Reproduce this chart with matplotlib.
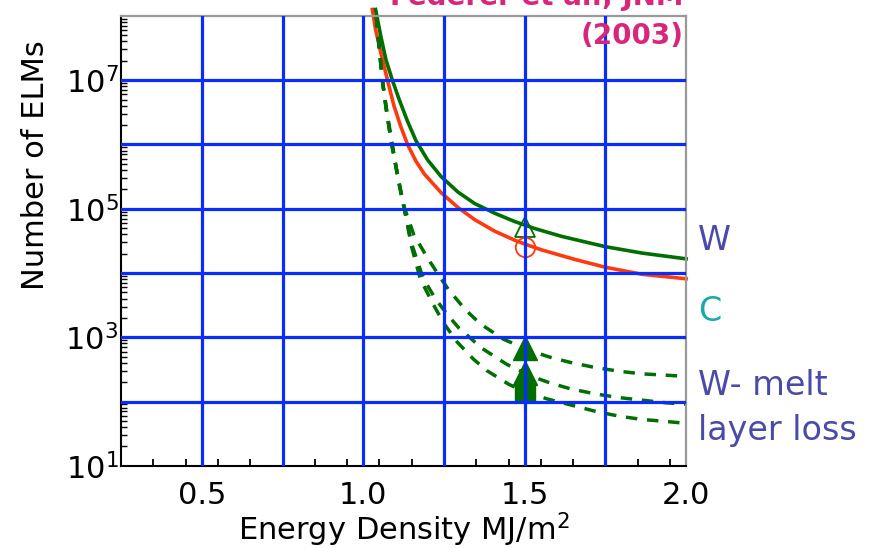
import numpy as np
import matplotlib
matplotlib.use("Agg")
import matplotlib.pyplot as plt
from matplotlib.ticker import FixedLocator, NullFormatter, LogLocator

plt.rcParams['font.family'] = ['DejaVu Sans']
plt.rcParams['mathtext.fontset'] = 'dejavusans'

# ---- data (energy density in MJ/m2, log10 of number of ELMs) ----
c_x = [1.028, 1.038, 1.054, 1.075, 1.095, 1.116, 1.137, 1.163, 1.189, 1.241, 1.293, 1.345,
       1.407, 1.469, 1.50, 1.552, 1.614, 1.656, 1.749, 1.863, 2.0]
c_logn = [8.10, 7.79, 7.43, 7.0, 6.60, 6.28, 6.0, 5.74, 5.54, 5.25, 5.02, 4.83,
          4.65, 4.51, 4.45, 4.36, 4.27, 4.21, 4.09, 3.98, 3.91]

w_x = [1.038, 1.054, 1.070, 1.090, 1.111, 1.137, 1.163, 1.199, 1.241, 1.293, 1.345, 1.407,
       1.469, 1.532, 1.614, 1.656, 1.749, 1.863, 2.0]
w_logn = [8.10, 7.69, 7.32, 7.0, 6.70, 6.36, 6.06, 5.76, 5.50, 5.26, 5.08, 4.93,
          4.80, 4.69, 4.57, 4.52, 4.41, 4.31, 4.22]

melt_top_x = [1.040, 1.059, 1.073, 1.090, 1.108, 1.125, 1.156, 1.197, 1.233, 1.264, 1.316,
              1.362, 1.434, 1.517, 1.578, 1.640, 1.717, 1.794, 1.865, 1.938, 2.0]
melt_top_logn = [8.0, 7.0, 6.5, 6.0, 5.45, 5.05, 4.6, 4.25, 3.97, 3.74, 3.43,
                 3.21, 2.97, 2.79, 2.69, 2.61, 2.53, 2.47, 2.43, 2.41, 2.39]

melt_mid_x = [1.040, 1.059, 1.073, 1.088, 1.107, 1.127, 1.150, 1.180, 1.197, 1.223, 1.264,
              1.295, 1.367, 1.444, 1.517, 1.578, 1.640, 1.717, 1.794, 1.866, 1.938, 2.0]
melt_mid_logn = [8.0, 7.0, 6.5, 6.0, 5.5, 5.0, 4.45, 4.0, 3.82, 3.6, 3.33,
                 3.15, 2.83, 2.58, 2.40, 2.29, 2.20, 2.12, 2.06, 2.02, 1.98, 1.96]

melt_low_x = [1.040, 1.059, 1.072, 1.088, 1.107, 1.127, 1.150, 1.177, 1.218, 1.249, 1.290,
              1.341, 1.383, 1.450, 1.500, 1.570, 1.640, 1.717, 1.794, 1.866, 1.938, 2.0]
melt_low_logn = [8.0, 7.0, 6.5, 6.0, 5.5, 5.0, 4.4, 3.9, 3.5, 3.22, 2.93,
                 2.66, 2.48, 2.27, 2.15, 2.04, 1.95, 1.85, 1.77, 1.72, 1.69, 1.66]

# markers at 1.5 MJ/m2
marker_x = 1.5
open_tri_logn = 4.72
open_circ_logn = 4.41
filled_tri_logn = [2.83, 2.44]
filled_sq_logn = 2.17

x_ticks = [0.5, 1.0, 1.5, 2.0]
x_ticklabels = ['0.5', '1.0', '1.5', '2.0']
y_label_exps = [1, 3, 5, 7]

green = '#006e00'
red = '#ff3a10'
blue = '#0a2dff'


def n(v):
    return np.power(10.0, np.asarray(v, dtype=float))


fig = plt.figure(figsize=(8.78, 5.48), dpi=100)
ax = fig.add_axes([0.138, 0.150, 0.6435, 0.821])
ax.set_yscale('log')
ax.set_xlim(0.25, 2.0)
ax.set_ylim(10, 1e8)

lw = 2.6
ax.plot(c_x, n(c_logn), color=red, lw=lw, zorder=2, clip_on=False)
ax.plot(w_x, n(w_logn), color=green, lw=lw, zorder=2, clip_on=False)
for xs, ls_ in [(melt_top_x, melt_top_logn), (melt_mid_x, melt_mid_logn), (melt_low_x, melt_low_logn)]:
    ax.plot(xs, n(ls_), color=green, lw=2.5, ls=(0, (3.3, 2.8)), zorder=2)

ax.plot([marker_x], n([open_tri_logn]), marker='^', ms=15, mfc='none', mec=green, mew=1.3, zorder=2)
ax.plot([marker_x], n([open_circ_logn]), marker='o', ms=14, mfc='none', mec=red, mew=1.3, zorder=2)
ax.plot([marker_x] * len(filled_tri_logn), n(filled_tri_logn), ls='none', marker='^', ms=17,
        color=green, zorder=2)
ax.plot([marker_x], n([filled_sq_logn]), marker='s', ms=14, color=green, zorder=2)

# grid (drawn over the curves)
for gx in [0.5, 0.75, 1.0, 1.25, 1.5, 1.75]:
    ax.axvline(gx, color=blue, lw=2.3, zorder=3)
for ge in range(2, 8):
    ax.axhline(10.0 ** ge, color=blue, lw=2.3, zorder=3)

# spines
for s in ['top', 'right']:
    ax.spines[s].set_color('#999999')
    ax.spines[s].set_linestyle((0, (1, 1)))
    ax.spines[s].set_linewidth(1.6)
for s in ['left', 'bottom']:
    ax.spines[s].set_color('black')
    ax.spines[s].set_linewidth(1.5)

# ticks
ax.xaxis.set_major_locator(FixedLocator(x_ticks))
ax.set_xticklabels(x_ticklabels)
ax.xaxis.set_minor_locator(FixedLocator(np.arange(0.35, 1.99, 0.1)))
ax.tick_params(axis='x', which='major', length=0, labelsize=22, pad=11)
ax.tick_params(axis='x', which='minor', direction='in', length=5, width=1.3)

ax.yaxis.set_major_locator(FixedLocator([10.0 ** e for e in range(1, 9)]))
ax.set_yticklabels(['$10^{%d}$' % e if e in y_label_exps else '' for e in range(1, 9)])
ax.yaxis.set_minor_locator(LogLocator(base=10, subs=np.arange(2, 10), numticks=20))
ax.yaxis.set_minor_formatter(NullFormatter())
ax.tick_params(axis='y', which='major', direction='in', length=7, width=1.3, labelsize=22, pad=2)
ax.tick_params(axis='y', which='minor', direction='in', length=4, width=1.0)
ax.tick_params(top=False, right=False, which='both')

ax.set_xlabel('Energy Density MJ/m$^2$', fontsize=22, labelpad=0)
fig.text(0.040, 0.699, 'Number of ELMs', rotation=90, fontsize=22, ha='center', va='center')

# annotations
lab_blue = '#4a4aa8'
fig.text(0.795, 0.561, 'W', fontsize=24, color=lab_blue, ha='left', va='center')
fig.text(0.795, 0.431, 'C', fontsize=24, color='#1aa9a9', ha='left', va='center')
fig.text(0.795, 0.297, 'W- melt', fontsize=24, color=lab_blue, ha='left', va='center')
fig.text(0.795, 0.215, 'layer loss', fontsize=24, color=lab_blue, ha='left', va='center')

pink = '#d8277a'
fig.text(0.779, 0.935, '(2003)', fontsize=20, color=pink, fontweight='bold', ha='right', va='center')
fig.text(0.779, 1.005, 'Federer et al., JNM', fontsize=20, color=pink, fontweight='bold',
         ha='right', va='center')

fig.savefig('out.png', dpi=100)
